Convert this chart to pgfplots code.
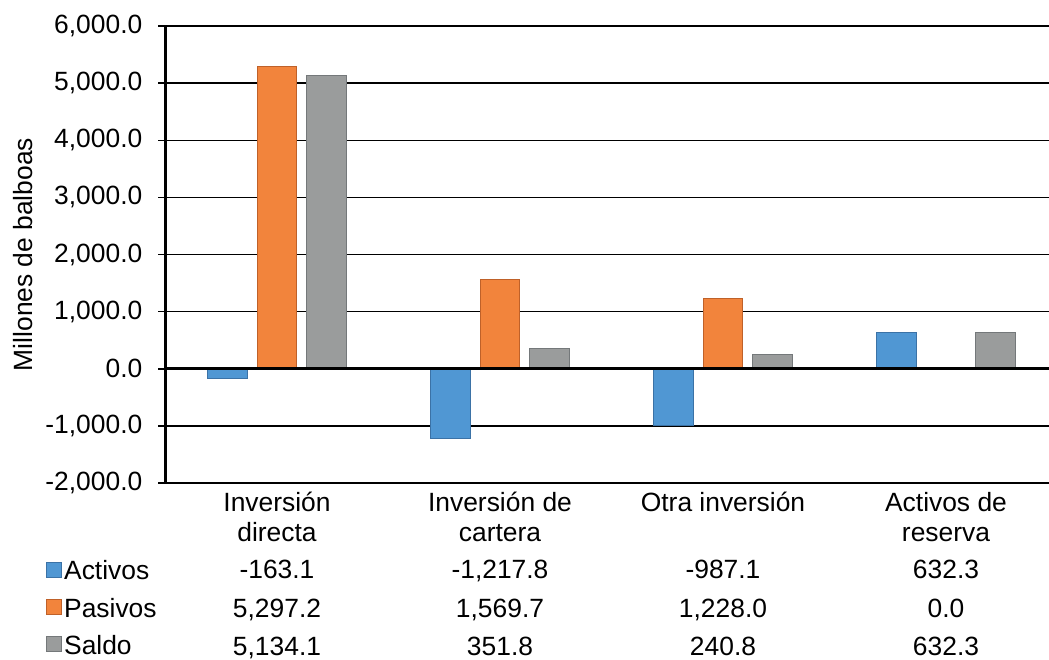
\documentclass[border=0pt]{standalone}
\usepackage{fontspec}
\setmainfont{Liberation Sans}
\usepackage{pgfplots}
\pgfplotsset{compat=1.18}

\definecolor{activos}{HTML}{5097D3}
\definecolor{activosd}{HTML}{3B72A6}
\definecolor{pasivos}{HTML}{F2843C}
\definecolor{pasivosd}{HTML}{BF6129}
\definecolor{saldo}{HTML}{9A9C9C}
\definecolor{saldod}{HTML}{74787A}

\newcommand{\chartfont}{\fontsize{26.5}{30}\selectfont}

\begin{document}
\begin{tikzpicture}
\begin{axis}[
    at={(0,0)}, anchor=south west,
    scale only axis,
    width=892bp, height=457bp,
    xmin=-0.5, xmax=3.5,
    ymin=-2000, ymax=6000,
    axis x line*=bottom,
    axis y line*=left,
    x axis line style={draw=none},
    y axis line style={line width=2.5bp, black},
    xtick={0,1,2,3},
    xticklabels={{Inversión\\directa},{Inversión de\\cartera},{Otra inversión},{Activos de\\reserva}},
    xticklabel style={align=center, font=\chartfont, anchor=north, inner sep=0pt, yshift=-2bp},
    major x tick style={draw=none},
    ytick={-2000,-1000,...,6000},
    tick align=outside,
    major tick length=7bp,
    y tick style={line width=1.5bp, black},
    yticklabel style={font=\chartfont, inner sep=0pt, anchor=east, xshift=-16bp},
    /pgf/number format/.cd, fixed, fixed zerofill, precision=1, 1000 sep={,}, assume math mode=true,
    /pgfplots/.cd,
    ymajorgrids,
    grid style={line width=1.5bp, black},
    ylabel={Millones de balboas},
    every axis y label/.style={at={(axis description cs:-0.1598,0.5)}, rotate=90, anchor=center, font=\chartfont},
    clip=false,
    legend style={at={(axis description cs:-0.134,-0.1702)}, anchor=north west,
        draw=none, fill=none, inner sep=0pt, font=\chartfont,
        row sep=18.2bp, column sep=2bp,
        nodes={inner sep=0pt, text height=19bp, text depth=0pt}},
    legend cell align=left,
    legend image code/.code={\draw[#1] (0bp,-7bp) rectangle (15bp,8bp);},
]
\addplot[ybar, bar width=39.5bp, bar shift=-49.5bp, fill=activos, draw=activosd, line width=1bp]
    coordinates {(0,-163.1) (1,-1217.8) (2,-987.1) (3,632.3)};
\addplot[ybar, bar width=39.5bp, bar shift=0bp, fill=pasivos, draw=pasivosd, line width=1bp]
    coordinates {(0,5297.2) (1,1569.7) (2,1228.0) (3,0.0)};
\addplot[ybar, bar width=39.5bp, bar shift=49.5bp, fill=saldo, draw=saldod, line width=1bp]
    coordinates {(0,5134.1) (1,351.8) (2,240.8) (3,632.3)};
\legend{Activos,Pasivos,Saldo}

% horizontal axis line at zero, over the bars
\draw[line width=2.8bp, black] (axis cs:-0.5,0) -- (axis cs:3.5,0);

% data table below the categories
\begin{scope}[every node/.style={font=\chartfont, anchor=base, inner sep=0pt}]
\node at (axis cs:0,-2000) [yshift=-95.5bp] {-163.1};
\node at (axis cs:1,-2000) [yshift=-95.5bp] {-1,217.8};
\node at (axis cs:2,-2000) [yshift=-95.5bp] {-987.1};
\node at (axis cs:3,-2000) [yshift=-95.5bp] {632.3};
\node at (axis cs:0,-2000) [yshift=-134.5bp] {5,297.2};
\node at (axis cs:1,-2000) [yshift=-134.5bp] {1,569.7};
\node at (axis cs:2,-2000) [yshift=-134.5bp] {1,228.0};
\node at (axis cs:3,-2000) [yshift=-134.5bp] {0.0};
\node at (axis cs:0,-2000) [yshift=-172.7bp] {5,134.1};
\node at (axis cs:1,-2000) [yshift=-172.7bp] {351.8};
\node at (axis cs:2,-2000) [yshift=-172.7bp] {240.8};
\node at (axis cs:3,-2000) [yshift=-172.7bp] {632.3};
\end{scope}
\end{axis}
\pgfresetboundingbox
\useasboundingbox (-165.5bp,-177bp) rectangle (883.5bp,483bp);
\end{tikzpicture}
\end{document}
